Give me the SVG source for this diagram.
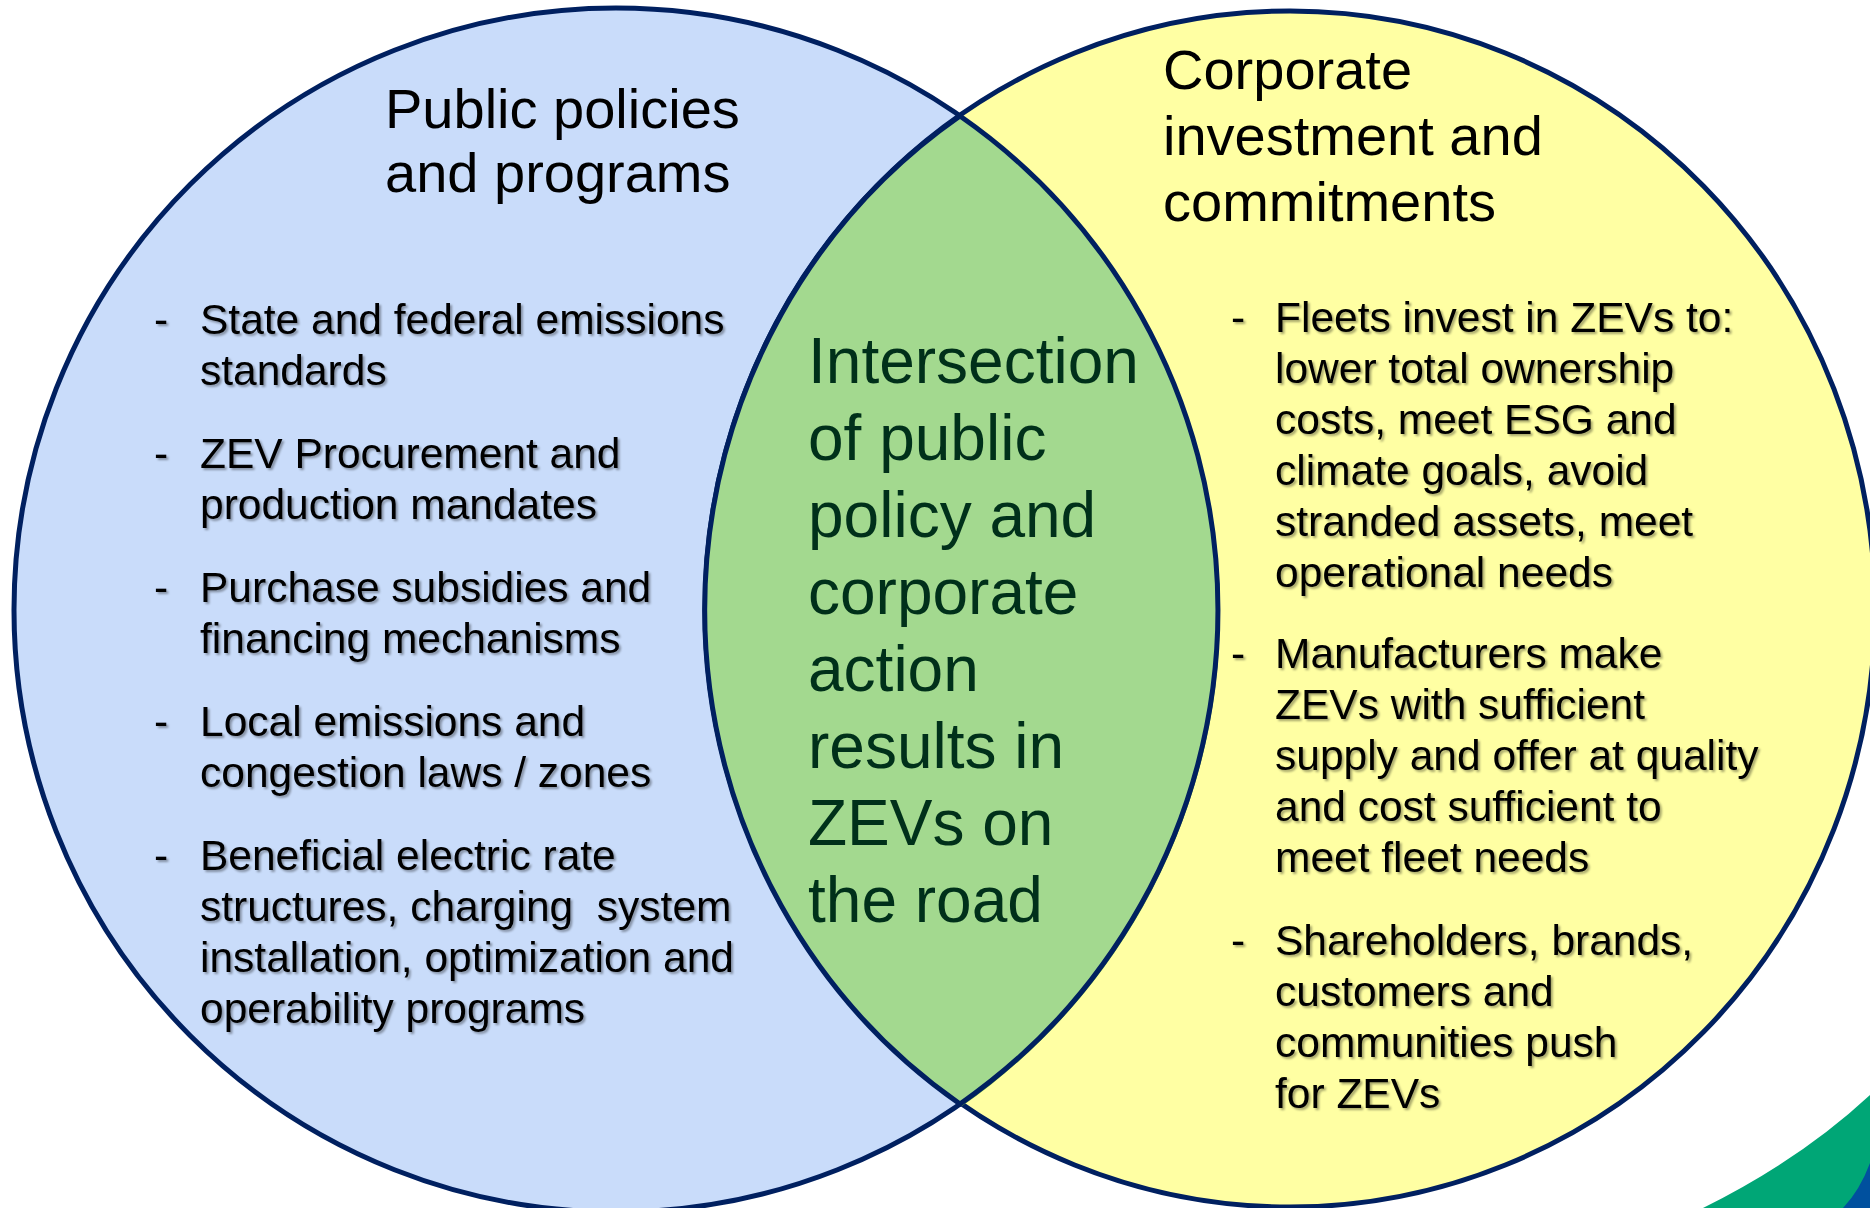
<svg xmlns="http://www.w3.org/2000/svg" width="1870" height="1208" viewBox="0 0 1870 1208">
<defs>
<style>
text{font-family:"Liberation Sans",Arial,Helvetica,sans-serif;}
.title{font-size:56px;fill:#000;}
.bul{font-size:42.5px;fill:#000;filter:url(#sh);}
.lens{font-size:64px;fill:#00301a;}
.ring{stroke:#002060;stroke-width:5;}
</style>
<filter id="sh" x="-5%" y="-20%" width="110%" height="150%">
<feDropShadow dx="2" dy="2" stdDeviation="1.2" flood-color="#000" flood-opacity="0.35"/>
</filter>
</defs>
<rect width="1870" height="1208" fill="#fff"/>
<g id="decoration">
<path d="M1703 1208 Q1800 1160 1870 1095 L1870 1208 Z" fill="#00a676"/>
<path d="M1843 1208 Q1860 1190 1870 1163 L1870 1208 Z" fill="#00509e"/>
</g>
<g id="node-public">
<circle class="ring" cx="616" cy="610" r="602" fill="#c9dcfa"/>
<text class="title" x="385" y="128">Public policies</text>
<text class="title" x="385" y="192">and programs</text>
<g class="bul">
<text x="154" y="334">-</text><text x="200" y="334">State and federal emissions</text>
<text x="200" y="385">standards</text>
<text x="154" y="468">-</text><text x="200" y="468">ZEV Procurement and</text>
<text x="200" y="519">production mandates</text>
<text x="154" y="602">-</text><text x="200" y="602">Purchase subsidies and</text>
<text x="200" y="653">financing mechanisms</text>
<text x="154" y="736">-</text><text x="200" y="736">Local emissions and</text>
<text x="200" y="787">congestion laws / zones</text>
<text x="154" y="870">-</text><text x="200" y="870">Beneficial electric rate</text>
<text x="200" y="921" style="white-space:pre">structures, charging  system</text>
<text x="200" y="972">installation, optimization and</text>
<text x="200" y="1023">operability programs</text>
</g>
</g>
<g id="node-corporate">
<ellipse class="ring" cx="1290" cy="609" rx="585" ry="598" fill="#ffffa3"/>
<text class="title" x="1163" y="89">Corporate</text>
<text class="title" x="1163" y="155">investment and</text>
<text class="title" x="1163" y="221">commitments</text>
<g class="bul">
<text x="1231" y="332">-</text><text x="1275" y="332">Fleets invest in ZEVs to:</text>
<text x="1275" y="383">lower total ownership</text>
<text x="1275" y="434">costs, meet ESG and</text>
<text x="1275" y="485">climate goals, avoid</text>
<text x="1275" y="536">stranded assets, meet</text>
<text x="1275" y="587">operational needs</text>
<text x="1231" y="668">-</text><text x="1275" y="668">Manufacturers make</text>
<text x="1275" y="719">ZEVs with sufficient</text>
<text x="1275" y="770">supply and offer at quality</text>
<text x="1275" y="821">and cost sufficient to</text>
<text x="1275" y="872">meet fleet needs</text>
<text x="1231" y="955">-</text><text x="1275" y="955">Shareholders, brands,</text>
<text x="1275" y="1006">customers and</text>
<text x="1275" y="1057">communities push</text>
<text x="1275" y="1108">for ZEVs</text>
</g>
</g>
<g id="node-intersection">
<path d="M960 116 A602 602 0 0 1 960 1104 A585 598 0 0 1 960 116 Z" fill="#4e8a45" transform="translate(2,2)"/>
<path class="ring" d="M960 116 A602 602 0 0 1 960 1104 A585 598 0 0 1 960 116 Z" fill="#a3d98f"/>
<text class="lens" x="808" y="383">Intersection</text>
<text class="lens" x="808" y="460">of public</text>
<text class="lens" x="808" y="537">policy and</text>
<text class="lens" x="808" y="614">corporate</text>
<text class="lens" x="808" y="691">action</text>
<text class="lens" x="808" y="768">results in</text>
<text class="lens" x="808" y="845">ZEVs on</text>
<text class="lens" x="808" y="922">the road</text>
</g>
</svg>
